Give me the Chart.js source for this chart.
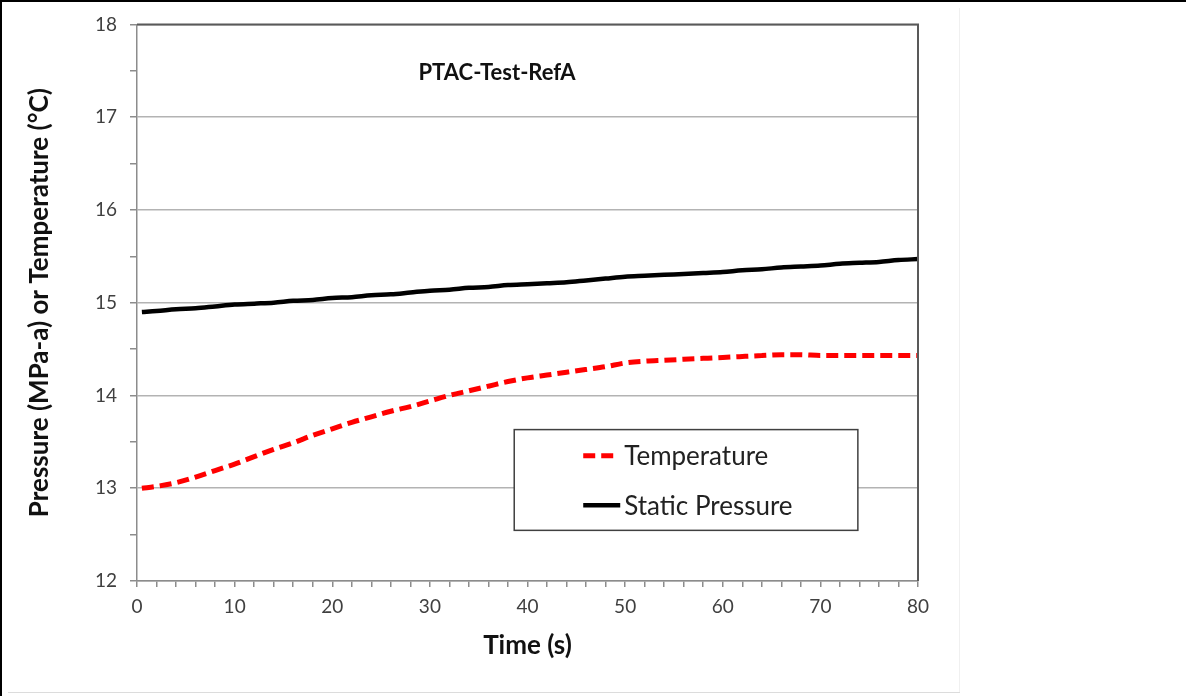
<!DOCTYPE html>
<html>
<head>
<meta charset="utf-8">
<script src="https://cdn.jsdelivr.net/npm/chart.js@4"></script>
<style>
    html, body { margin: 0; padding: 0; background: #fff; }
    #wrap { position: absolute; left: 0; top: 0; width: 1186px; height: 696px; }
    /* page frame lines */
    #frameTop { position: absolute; left: 0; top: 0; width: 1186px; height: 2px; background: #000; }
    #frameLeft { position: absolute; left: 0; top: 0; width: 2px; height: 696px; background: #000; }
    #edgeRight { position: absolute; left: 959px; top: 8px; width: 1px; height: 685px; background: #f0f0f0; }
    #edgeBottom { position: absolute; left: 8px; top: 692px; width: 952px; height: 1px; background: #dcdcdc; }
</style>
</head>
<body>
<div id="wrap"><canvas id="ptacChart"></canvas></div>
<div id="frameTop"></div>
<div id="frameLeft"></div>
<div id="edgeRight"></div>
<div id="edgeBottom"></div>
<script>
// Sample times (s)
const timeS = [0.5, 2, 4, 6, 8, 10, 12, 14, 16, 18, 20, 22, 24, 26, 28, 30, 32, 34, 36, 38, 40,
    42, 44, 46, 48, 50, 52, 54, 56, 58, 60, 62, 64, 66, 68, 70, 72, 74, 76, 78, 80];

// Temperature (°C)
const temperature = [13.00, 13.02, 13.06, 13.12, 13.19, 13.26, 13.34, 13.42, 13.49, 13.57, 13.64,
    13.71, 13.77, 13.83, 13.88, 13.94, 14.00, 14.05, 14.10, 14.15, 14.19,
    14.22, 14.25, 14.28, 14.31, 14.35, 14.37, 14.38, 14.39, 14.40, 14.41,
    14.42, 14.43, 14.44, 14.44, 14.43, 14.43, 14.43, 14.43, 14.43, 14.43];

// Static pressure (MPa-a)
const staticPressure = [14.90, 14.91, 14.93, 14.94, 14.96, 14.98, 14.99, 15.00, 15.02, 15.03, 15.05,
    15.06, 15.08, 15.09, 15.11, 15.13, 15.14, 15.16, 15.17, 15.19, 15.20,
    15.21, 15.22, 15.24, 15.26, 15.28, 15.29, 15.30, 15.31, 15.32, 15.33,
    15.35, 15.36, 15.38, 15.39, 15.40, 15.42, 15.43, 15.44, 15.46, 15.47];

const seriesNames = ['Temperature', 'Static Pressure'];
const chartTitle = 'PTAC-Test-RefA';

const FONT = "Lato, 'Liberation Sans', sans-serif";

// Frame, in-plot title and boxed legend
const plotExtras = {
    id: 'plotExtras',
    afterDraw(chart) {
        const ctx = chart.ctx;
        const a = chart.chartArea;
        const w = a.right - a.left;
        const h = a.bottom - a.top;
        ctx.save();

        // top and right plot border
        ctx.strokeStyle = '#595959';
        ctx.lineWidth = 2;
        ctx.beginPath();
        ctx.moveTo(a.left, a.top);
        ctx.lineTo(a.right, a.top);
        ctx.lineTo(a.right, a.bottom);
        ctx.stroke();

        // title
        ctx.fillStyle = '#111';
        ctx.font = "bold 22px " + FONT;
        ctx.textAlign = 'center';
        ctx.textBaseline = 'middle';
        ctx.fillText(chartTitle, a.left + w * 0.461, a.top + h * 0.088);

        // legend box
        const bx = a.left + w * 0.483, by = a.top + h * 0.728;
        const bw = w * 0.44, bh = h * 0.181;
        ctx.fillStyle = '#fff';
        ctx.fillRect(bx, by, bw, bh);
        ctx.strokeStyle = '#404040';
        ctx.lineWidth = 1.5;
        ctx.strokeRect(bx, by, bw, bh);

        const ds = chart.data.datasets;
        const rows = [by + bh * 0.26, by + bh * 0.75];
        ctx.font = "26px " + FONT;
        ctx.textAlign = 'left';
        seriesNames.forEach((name, i) => {
            const d = ds[i];
            ctx.strokeStyle = d.borderColor;
            ctx.lineWidth = d.borderWidth;
            ctx.setLineDash(d.borderDash || []);
            ctx.beginPath();
            ctx.moveTo(bx + 69, rows[i]);
            ctx.lineTo(bx + (i === 0 ? 100 : 106), rows[i]);
            ctx.stroke();
            ctx.setLineDash([]);
            ctx.fillStyle = '#222';
            ctx.fillText(name, bx + 110, rows[i] + 1);
        });
        ctx.restore();
    }
};

const chart = new Chart(document.getElementById('ptacChart').getContext('2d'), {
    type: 'line',
    data: {
        datasets: [
            {
                label: seriesNames[0],
                data: timeS.map((t, i) => ({ x: t, y: temperature[i] })),
                borderColor: '#ff0000',
                borderWidth: 5,
                borderDash: [12, 6],
                pointRadius: 0,
                cubicInterpolationMode: 'monotone'
            },
            {
                label: seriesNames[1],
                data: timeS.map((t, i) => ({ x: t, y: staticPressure[i] })),
                borderColor: '#000000',
                borderWidth: 4.5,
                pointRadius: 0,
                cubicInterpolationMode: 'monotone'
            }
        ]
    },
    options: {
        responsive: true,
        maintainAspectRatio: false,
        animation: false,
        layout: { padding: { left: 12, top: 23, right: 268, bottom: 0 } },
        plugins: {
            legend: { display: false },
            tooltip: { enabled: false }
        },
        scales: {
            x: {
                type: 'linear',
                min: 0,
                max: 80,
                afterFit(scale) { scale.height = 115; },
                ticks: {
                    stepSize: 2,
                    autoSkip: false,
                    maxRotation: 0,
                    padding: 8,
                    color: '#404040',
                    font: { family: FONT, size: 19 },
                    callback: v => (v % 10 === 0 ? v : '')
                },
                grid: {
                    drawOnChartArea: false,
                    tickLength: 6,
                    tickColor: '#8c8c8c',
                    lineWidth: 1.5
                },
                border: { color: '#8c8c8c', width: 1.5 },
                title: {
                    display: true,
                    text: 'Time (s)',
                    color: '#111',
                    font: { family: FONT, size: 26, weight: 'bold' },
                    padding: { top: 0, bottom: 35 }
                }
            },
            y: {
                min: 12,
                max: 18,
                afterFit(scale) { scale.width = 125; },
                ticks: {
                    stepSize: 0.5,
                    autoSkip: false,
                    padding: 13,
                    color: '#404040',
                    font: { family: FONT, size: 19 },
                    callback: v => (Number.isInteger(v) ? v : '')
                },
                grid: {
                    color: c => (c.tick && Number.isInteger(c.tick.value) ? '#b3b3b3' : 'rgba(0,0,0,0)'),
                    tickColor: '#8c8c8c',
                    tickLength: 7,
                    lineWidth: 1.5
                },
                border: { color: '#8c8c8c', width: 1.5 },
                title: {
                    display: true,
                    text: 'Pressure (MPa-a) or Temperature (°C)',
                    color: '#111',
                    font: { family: FONT, size: 26, weight: 'bold' },
                    padding: { top: 12, bottom: 0 }
                }
            }
        }
    },
    plugins: [plotExtras]
});
</script>
</body>
</html>
